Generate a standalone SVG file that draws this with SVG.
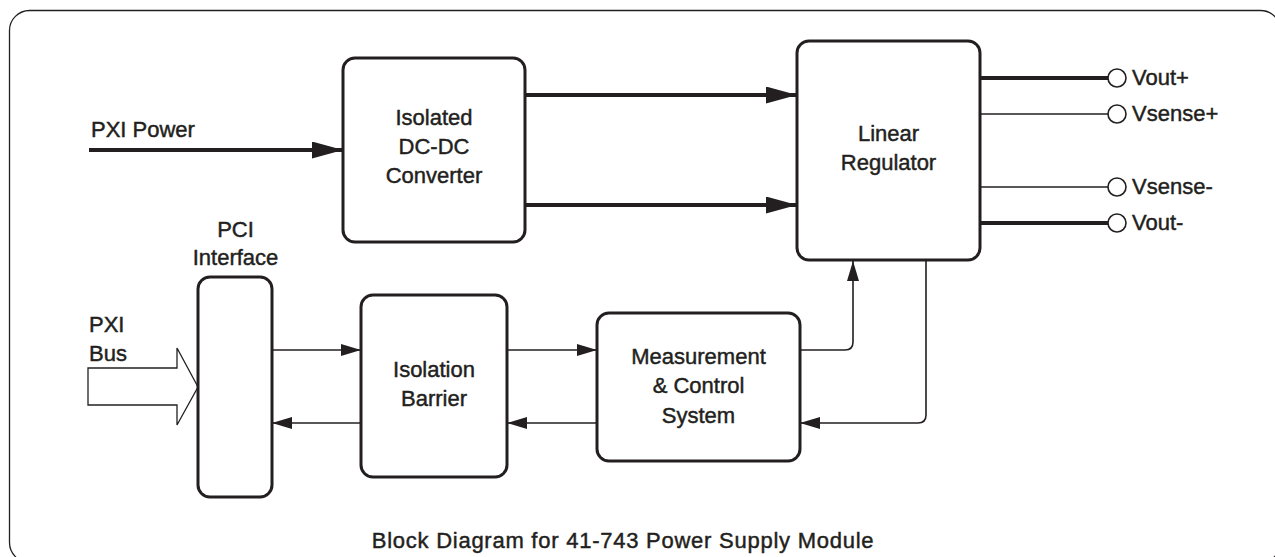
<svg xmlns="http://www.w3.org/2000/svg" width="1275" height="557" viewBox="0 0 1275 557">
<style>
.box{fill:#fff;stroke:#231f20;stroke-width:3}
.lbl{font-family:"Liberation Sans",Arial,sans-serif;font-size:22px;fill:#231f20;stroke:#231f20;stroke-width:0.45}
.mid{text-anchor:middle}
.thick{fill:none;stroke:#231f20;stroke-width:4}
.thin{fill:none;stroke:#231f20;stroke-width:1.6}
.term{fill:#fff;stroke:#231f20;stroke-width:1.6}
</style>
<defs>
<marker id="ah-big" markerUnits="userSpaceOnUse" viewBox="0 0 31 17" refX="31" refY="8.5" markerWidth="31" markerHeight="17" orient="auto">
<path d="M0,0 L31,8.5 L0,17 z" fill="#231f20"/>
</marker>
<marker id="ah-small" markerUnits="userSpaceOnUse" viewBox="0 0 20 12" refX="20" refY="6" markerWidth="20" markerHeight="12" orient="auto">
<path d="M0,0 L20,6 L0,12 z" fill="#231f20"/>
</marker>
</defs>
<rect x="0" y="0" width="1275" height="557" fill="#fff"/>
<rect id="frame" x="9.5" y="10.5" width="1271" height="552" rx="20" fill="none" stroke="#231f20" stroke-width="1.3"/>

<g id="connectors">
<line class="thick" x1="89" y1="150" x2="343" y2="150" marker-end="url(#ah-big)"/>
<line class="thick" x1="525" y1="95" x2="797" y2="95" marker-end="url(#ah-big)"/>
<line class="thick" x1="525" y1="205" x2="797" y2="205" marker-end="url(#ah-big)"/>
<line class="thin" x1="272" y1="350" x2="361" y2="350" marker-end="url(#ah-small)"/>
<line class="thin" x1="361" y1="423" x2="272" y2="423" marker-end="url(#ah-small)"/>
<line class="thin" x1="507" y1="350" x2="597" y2="350" marker-end="url(#ah-small)"/>
<line class="thin" x1="597" y1="423" x2="507" y2="423" marker-end="url(#ah-small)"/>
<path class="thin" d="M800,350 H845 Q853,350 853,342 V261" marker-end="url(#ah-small)"/>
<path class="thin" d="M926,260 V415 Q926,423 918,423 H800" marker-end="url(#ah-small)"/>
<polygon points="88,368 177,368 177,348 198,387 177,425 177,405 88,405" fill="#fff" stroke="#231f20" stroke-width="1.3"/>
<line class="thick" x1="980" y1="78" x2="1108" y2="78"/>
<line class="thin" x1="980" y1="114" x2="1108" y2="114"/>
<line class="thin" x1="980" y1="187" x2="1108" y2="187"/>
<line class="thick" x1="980" y1="223" x2="1108" y2="223"/>
</g>

<g id="dcdc">
<rect class="box" x="343" y="58" width="182" height="184" rx="12"/>
<text class="lbl mid" x="434" y="125">Isolated</text>
<text class="lbl mid" x="434" y="154">DC-DC</text>
<text class="lbl mid" x="434" y="183">Converter</text>
</g>

<g id="linreg">
<rect class="box" x="797" y="41" width="183" height="219" rx="12"/>
<text class="lbl mid" x="888.5" y="141">Linear</text>
<text class="lbl mid" x="888.5" y="170">Regulator</text>
</g>

<g id="pci">
<rect class="box" x="198" y="277" width="74" height="220" rx="12"/>
<text class="lbl mid" x="235.5" y="237">PCI</text>
<text class="lbl mid" x="235.5" y="265">Interface</text>
</g>

<g id="isobar">
<rect class="box" x="361" y="295" width="146" height="182" rx="12"/>
<text class="lbl mid" x="434" y="377">Isolation</text>
<text class="lbl mid" x="434" y="406">Barrier</text>
</g>

<g id="mcs">
<rect class="box" x="597" y="313" width="203" height="148" rx="12"/>
<text class="lbl mid" x="698.5" y="364">Measurement</text>
<text class="lbl mid" x="698.5" y="393">&amp; Control</text>
<text class="lbl mid" x="698.5" y="423">System</text>
</g>

<g id="pxipower">
<text class="lbl" x="91" y="137">PXI Power</text>
</g>

<g id="pxibus">
<text class="lbl" x="89" y="332">PXI</text>
<text class="lbl" x="89" y="361">Bus</text>
</g>

<g id="vout-plus">
<circle class="term" cx="1117" cy="78" r="9"/>
<text class="lbl" x="1132" y="85">Vout+</text>
</g>
<g id="vsense-plus">
<circle class="term" cx="1117" cy="114" r="9"/>
<text class="lbl" x="1132" y="121">Vsense+</text>
</g>
<g id="vsense-minus">
<circle class="term" cx="1117" cy="187" r="9"/>
<text class="lbl" x="1132" y="194">Vsense-</text>
</g>
<g id="vout-minus">
<circle class="term" cx="1117" cy="223" r="9"/>
<text class="lbl" x="1132" y="230">Vout-</text>
</g>

<text class="lbl mid" x="623" y="548" font-size="23" letter-spacing="0.75">Block Diagram for 41-743 Power Supply Module</text>
</svg>
